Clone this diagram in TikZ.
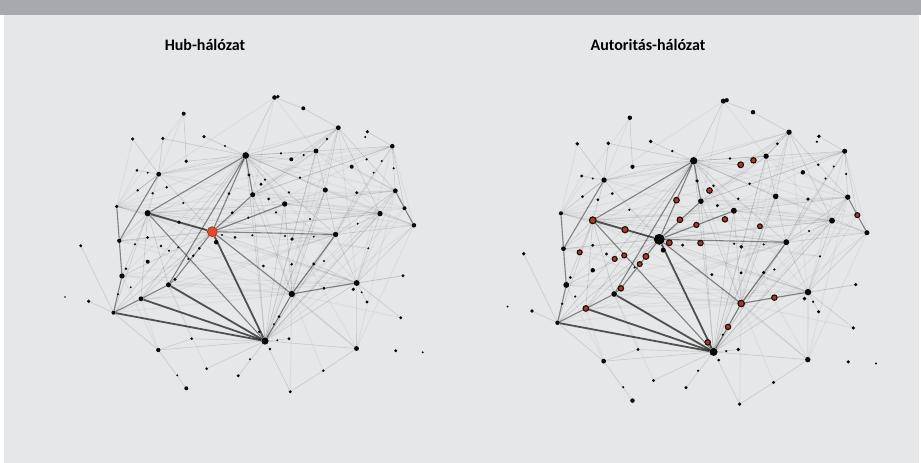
\documentclass[tikz,border=0pt]{standalone}
\usepackage{fontspec}
\setmainfont{Carlito}
\usepackage{tikz}
\definecolor{mybar}{RGB}{167,169,172}
\definecolor{mypanel}{RGB}{230,231,232}
\definecolor{myedge}{RGB}{30,30,30}
\definecolor{mydot}{RGB}{10,10,10}
\definecolor{myhub}{RGB}{226,74,44}
\definecolor{myhubdark}{RGB}{165,48,24}
\definecolor{myauth}{RGB}{160,60,48}
\definecolor{myauthdark}{RGB}{35,10,8}
\pgfdeclarelayer{back}
\pgfdeclarelayer{edges}
\pgfsetlayers{back,edges,main}
\tikzset{
  netdot/.style={circle, fill=mydot, inner sep=0pt, minimum size=#1*1pt},
  hubdot/.style={circle, fill=myhub, draw=myhubdark, line width=0.7pt,
    inner sep=0pt, minimum size=10pt},
  bighubdot/.style={circle, fill=mydot, inner sep=0pt, minimum size=11pt},
  authdot/.style={circle, fill=myauth, draw=myauthdark, line width=1.1pt,
    inner sep=0pt, minimum size=#1*1pt},
  strongedge/.style={draw=myedge, line width=1.8pt, draw opacity=0.75},
  midedge/.style={draw=myedge, line width=1.1pt, draw opacity=0.5},
  faintedge/.style={draw=myedge, line width=0.6pt, draw opacity=0.15},
  hazeedge/.style={draw=myedge, line width=1pt, draw opacity=0.05},
  nettitle/.style={font=\bfseries\fontsize{16}{19}\selectfont, text=black}
}

% node name / x / y / size (left picture, px)
\newcommand{\netnodes}{%
A/245.7/155.5/5.0, B/147.7/213.2/4.6, C/265/341/5.4, D/291.8/294/4.8,
E/335.6/234.5/4.0, F/356.7/283/4.4, G/113.5/312.7/3.0, H/141/298.8/3.6,
I/168.5/284.8/3.8, J/122/276/4.0, K/119.3/240.8/3.2, L/116.8/206.5/2.8,
M/158.7/174.2/3.6, N/252.7/194.7/3.8, O/284.7/204/4.0, P/338.3/127.7/3.6,
Q/392.3/146.2/3.4, R/395.3/190.8/3.6, S/404.5/208.2/3.0, T/413.9/225.3/3.4,
U/380/213.6/4.0, V/325.3/190/3.8, W/316/151/3.6, X/274.5/97.5/3.4,
X2/277.8/96.6/2.8, Y/216.2/242.2/3.4, Z/356.5/348.5/3.6,
28/183.7/113.7/3.0, 29/303.3/108.3/3.0, 30/132.7/139/2.6, 31/162.8/138.5/2.6,
32/204/136.7/2.6, 33/225/146/1.8, 34/186.3/161.3/2.8, 35/137/170.3/2.2,
36/147.7/172.7/1.6, 37/137.7/190.3/2.0, 38/152.7/193.3/2.0, 39/166.7/187.3/2.0,
40/183.3/203/1.6, 41/179/222.3/2.8, 42/147.7/237.5/2.2, 43/249/175/2.4,
44/229/193.7/2.2, 45/232.3/212.7/2.4, 46/248.3/217.7/1.8, 47/235/237.3/2.2,
48/252.3/235.3/1.8, 49/367.3/131.7/2.6, 50/365.3/137/1.6, 51/327/139/2.0,
52/281/153.3/1.8, 53/291.3/159.3/3.0, 54/303.7/155/1.8, 55/366.7/159.3/1.8,
56/381.7/161/1.6, 57/351.7/166.7/3.0, 58/393.7/168.3/1.8, 59/300/177.7/1.8,
60/373.7/172.7/1.6, 61/265/179.7/1.8, 62/261/184.3/2.4, 63/289/192.3/1.8,
64/356.7/192.7/2.4, 65/268.7/199/2.2, 66/276/212.3/1.8, 67/310/219/1.6,
68/357.7/223.7/1.6, 69/292/239/2.6, 70/313.7/236.7/1.6, 71/285/236/1.6,
72/80.7/245.7/2.4, 73/135/244.3/1.6, 74/161/246/2.2, 75/178.3/247.3/1.6,
76/169/250.7/1.6, 77/199.3/248.3/2.2, 78/147.7/261.7/3.0, 79/193.3/255.7/2.0,
80/188.3/259/1.6, 81/126/268.7/2.0, 82/130.7/287.3/1.6, 83/175/279.3/2.6,
84/118/294.3/1.6, 85/88.7/301.3/2.6, 86/65/297/1.4, 87/158.3/350/3.2,
88/191.7/338.7/2.2, 89/206.7/368.7/2.2, 90/177.3/375.3/1.6, 91/186.3/388.3/3.0,
92/238.3/375.7/2.4, 93/250/359.3/1.6, 94/259.3/331.7/2.0, 95/368.3/248.3/1.6,
96/263.3/266/2.2, 97/291.7/264.3/2.2, 98/313.7/264/2.4, 99/324/261/1.6,
100/403/275.7/2.4, 101/353.3/289.3/2.6, 102/324/288.3/2.4, 103/361.7/292.3/1.6,
104/367/302/2.4, 105/279/316.7/2.2, 106/274/324.3/1.6, 107/400.7/317.7/2.4,
108/289/338.7/2.4, 109/277.3/340.3/1.6, 110/270/349/2.0, 111/395.7/350.7/2.4,
112/422.7/352.3/1.6, 113/323.3/370.7/2.2, 114/290.3/391.7/2.4, 115/222/235/1.6%
}

\newcommand{\strongedges}{hub/C, B/hub, H/C, G/C, I/C}

\newcommand{\midedges}{%
A/B, B/C, hub/D, L/K, K/J, J/G, M/K, G/H, H/I, I/83, 83/hub, D/102, 102/F,
D/E, A/hub, A/N, hub/N, hub/O, R/S, S/T, C/D, A/I, hub/E%
}

\newcommand{\faintedges}{%
A/X, A/W, A/P, A/Q, A/O, A/E, A/V, A/C, A/H, A/G, A/53, A/43, A/32, A/34,
A/M, P/R, P/U, P/V, P/W, Q/R, Q/S, Q/49, W/V, V/E, E/F, E/U, E/T, F/Z,
F/104, F/100, D/Z, C/Z, C/114, 114/113, 113/Z, G/87, 87/88, 88/C, L/B, L/M,
M/30, M/31, M/B, M/35, M/37, B/I, B/E, B/O, B/J, B/G, B/H, K/B, J/hub,
G/hub, G/72, 85/G, H/hub, 28/34, 31/A, 29/P, 29/X, U/R, U/T, U/F, R/E, T/F,
107/F, D/105, D/97, D/98, 98/F, C/F, hub/F, hub/U, O/R, O/U, N/W, N/Q, 53/P,
57/R, 51/W, 64/E, C/92, C/94, C/105, C/108, C/89, N/D, N/C, O/C, O/D, V/D,
V/C, W/C, E/C, U/C, 69/E, hub/M, hub/L, hub/K, 87/C, 91/87%
}

\newcommand{\hazeedges}{%
B/R, B/U, B/Q, L/R, L/U, K/E, K/U, J/E, J/F, M/Q, M/P, M/W, L/Q, A/F, A/Z,
A/D, A/U, A/R, A/T, A/S, hub/Q, hub/P, hub/T, hub/S, hub/Z, B/F, B/D, H/F,
H/D, G/D, I/F, I/D, J/D, K/D, K/F, L/E, L/F, M/E, M/U, N/U, N/R, O/T, O/S,
V/T, W/R, W/U, P/F, Q/F, Q/E, Q/T, R/F, R/Z, S/F, T/Z, C/R, C/U, C/Q, C/P,
C/W, C/V, C/S, C/T, D/U, D/R, D/Q, D/P, D/W, X/W, X/N, 28/M, 28/L, 30/L,
35/L, 87/H, 87/J, 88/I, 89/I, 114/D, 113/D, 107/D, 100/D, 95/hub, 95/B,
A/J, A/K, A/L, X/M, P/N, Q/N, W/hub, V/hub, G/E, H/E, I/E%
}

% authority nodes drawn red in the right picture
\newcommand{\authnodes}{%
53/5.8, 54/5.4, 62/5.6, 44/5.6, 45/5.6, 46/5.2, 66/5.4, 67/4.8, B/6.8,
41/6.2, 48/5.4, 115/5.8, 73/5.0, 76/5.0, 75/5.0, 77/5.8, 79/5.0, 83/5.4,
H/5.6, D/6.4, 102/5.4, 105/5.4, 94/5.4, S/5.0%
}

% #1 prefix, #2 hub style, #3 size factor
\newcommand{\drawnet}[3]{%
  \foreach \n/\x/\y/\s in \netnodes {\node[netdot=\s*#3] (#1\n) at (\x,\y) {};}
  \node[#2] (#1hub) at (212.3,231.7) {};
  \begin{pgfonlayer}{edges}
    \foreach \a/\b in \hazeedges {\draw[hazeedge] (#1\a) -- (#1\b);}
    \foreach \a/\b in \faintedges {\draw[faintedge] (#1\a) -- (#1\b);}
    \foreach \a/\b in \midedges {\draw[midedge] (#1\a) -- (#1\b);}
    \foreach \a/\b in \strongedges {\draw[strongedge] (#1\a) -- (#1\b);}
  \end{pgfonlayer}
}

\begin{document}
\begin{tikzpicture}[x=1pt, y=-1pt]
  \useasboundingbox (0,0) rectangle (921,463);
  % Frame
  \begin{pgfonlayer}{back}
    \fill[white] (0,0) rectangle (921,463);
    \fill[mypanel] (4,0) rectangle (919,463);
    \fill[mybar] (0,0) rectangle (921,15);
  \end{pgfonlayer}

  % Titles
  \node[nettitle] (hubtitle) at (205,45) {Hub-hálózat};
  \node[nettitle] (authtitle) at (648,45) {Autoritás-hálózat};

  % Hub network
  \begin{scope}
    \drawnet{L}{hubdot}{1.35}
  \end{scope}

  % Authority network
  \begin{scope}[shift={(440.6,0.65)}, scale=1.03]
    \drawnet{R}{bighubdot}{1.5}
    \foreach \n/\s in \authnodes {\node[authdot=\s] (R\n-auth) at (R\n) {};}
  \end{scope}
\end{tikzpicture}
\end{document}
